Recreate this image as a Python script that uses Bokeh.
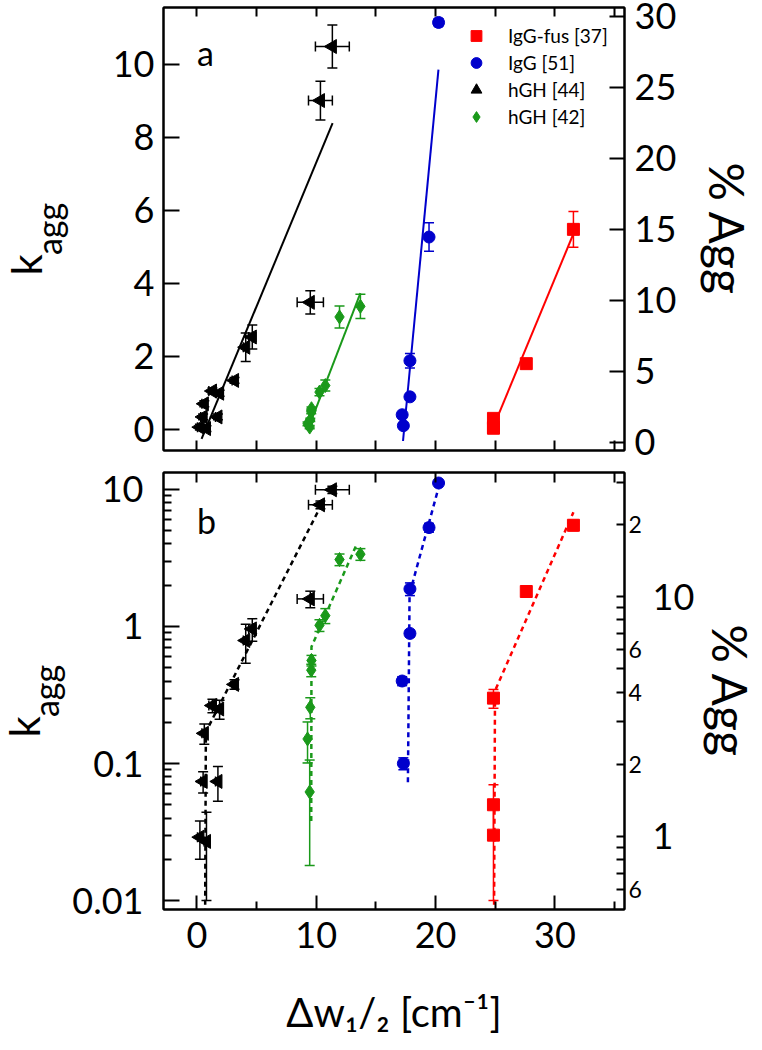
import math
from bokeh.plotting import figure
from bokeh.models import (Range1d, LinearAxis, LogAxis, LogScale, FixedTicker,
                          ColumnDataSource, Whisker, TeeHead, Label, Legend, LegendItem, Title)
from bokeh.layouts import column
from bokeh.embed import file_html
from bokeh.resources import INLINE

# ---------------- data ----------------
# IgG-fus [37]
iggfus_x = [24.85, 24.85, 24.85, 27.6, 31.55]
iggfus_k = [0.03, 0.05, 0.30, 1.80, 5.48]
iggfus_err = [0.02, 0.02, 0.047, 0.05, 0.49]

# IgG [51]
igg_x = [17.3, 17.2, 17.85, 17.85, 19.45, 20.25]
igg_k = [0.10, 0.40, 0.89, 1.88, 5.27, 11.15]
igg_err = [0.01, 0.03, 0.05, 0.20, 0.39, 0.10]
igg_xerr = [0.05, 0.05, 0.05, 0.1, 0.1, 0.3]

# hGH [44]
hgh44_x = [11.35, 10.35, 9.5, 4.09, 4.64, 3.15, 1.3, 1.9, 0.62, 0.52, 1.76, 0.25, 0.8]
hgh44_xerr = [1.42, 1.0, 1.1, 0.2, 0.3, 0.2, 0.3, 0.3, 0.2, 0.2, 0.2, 0.2, 0.2]
hgh44_k_lin = [10.49, 9.01, 3.48, 2.25, 2.53, 1.34, 1.05, 0.99, 0.70, 0.34, 0.34, 0.06, 0.02]
hgh44_err_lin = [0.59, 0.53, 0.32, 0.39, 0.33, 0.08, 0.08, 0.08, 0.08, 0.08, 0.08, 0.08, 0.08]
hgh44_k_log = [9.95, 7.73, 1.59, 0.79, 0.96, 0.378, 0.265, 0.25, 0.166, 0.074, 0.074, 0.029, 0.027]
hgh44_err_log = [0.6, 0.5, 0.22, 0.25, 0.18, 0.03, 0.03, 0.04, 0.028, 0.013, 0.021, 0.009, 0.017]

# hGH [42]
hgh42_x = [9.45, 9.27, 9.5, 9.58, 9.6, 10.27, 10.76, 11.95, 13.7]
hgh42_k = [0.062, 0.151, 0.257, 0.48, 0.565, 1.02, 1.20, 3.08, 3.37]
hgh42_err = [0.044, 0.05, 0.045, 0.05, 0.05, 0.1, 0.15, 0.3, 0.33]

# fitted lines, panel a (linear)
fit_a_hgh44_x = [0.39, 11.37]; fit_a_hgh44_k = [-0.26, 8.39]
fit_a_hgh42_x = [9.3, 13.7];   fit_a_hgh42_k = [0.0, 3.73]
fit_a_igg_x = [17.27, 20.24];  fit_a_igg_k = [-0.32, 9.86]
fit_a_iggfus_x = [24.9, 31.55]; fit_a_iggfus_k = [0.11, 5.36]

# fitted lines, panel b (log)
fit_b_hgh44_x = [0.69, 0.75, 10.4];   fit_b_hgh44_k = [0.008, 0.17, 7.64]
fit_b_hgh42_x = [9.58, 9.6, 13.43];   fit_b_hgh42_k = [0.038, 0.71, 4.06]
fit_b_igg_x = [17.68, 17.82, 20.3];   fit_b_igg_k = [0.073, 1.73, 10.7]
fit_b_iggfus_x = [24.9, 24.98, 31.55]; fit_b_iggfus_k = [0.008, 0.34, 6.83]

x_ticks_all = [0, 5, 10, 15, 20, 25, 30, 35]
x_major = [0, 10, 20, 30]
x_minor = [5, 15, 25, 35]
x_labels = ["0", "10", "20", "30"]
ka_ticks = [0, 2, 4, 6, 8, 10]
pct_a_ticks = [0, 5, 10, 15, 20, 25, 30]
kb_major = [0.01, 0.1, 1, 10]
kb_labels = ["0.01", "0.1", "1", "10"]
pct_b_major = [1, 10]
pct_b_major_labels = ["1", "10"]
pct_b_small = [0.6, 2, 4, 6, 20]
pct_b_small_labels = ["6", "2", "4", "6", "2"]

legend_labels = ["IgG-fus [37]", "IgG [51]", "hGH [44]", "hGH [42]"]
x_title = "\u0394w\u2081/\u2082 [cm\u207b\u00b9]"
y_title_main = "k"
y_title_sub = "agg"
y2_title = "% Agg"

# ---------------- style ----------------
FONT = "Lato"
RED = "#ff0000"
BLUE = "#0000cc"
BLACK = "#000000"
GREEN = "#1a991a"
W = 762
X0, X1 = -2.8, 35.83
FL, FR = 163, 632          # frame left/right (px)
H1, H2 = 466, 584
F1T, F1B = 7, 450          # frame a top/bottom (px)
F2T, F2B = 472, 909        # frame b top/bottom (px, whole page)
YA = (-0.58, 11.56)
PA = (-0.58, 30.6)
YB = (0.0086, 13.3)
PB = (0.496, 32.9)


def xd(px):
    return X0 + (px - FL) / (FR - FL) * (X1 - X0)


def ya(py):
    return YA[1] - (py - F1T) / (F1B - F1T) * (YA[1] - YA[0])


def yb(py):
    lt, lb = math.log10(YB[1]), math.log10(YB[0])
    return 10 ** (lt - (py - F2T) / (F2B - F2T) * (lt - lb))


def make_fig(h, y_range, log, top, bottom):
    kw = dict(width=W, height=h, x_range=Range1d(X0, X1), y_range=y_range,
              output_backend="svg", toolbar_location=None,
              min_border_left=FL, min_border_right=W - FR,
              min_border_top=top, min_border_bottom=bottom)
    if log:
        kw["y_axis_type"] = "log"
    p = figure(**kw)
    p.grid.visible = False
    p.outline_line_color = "black"
    p.outline_line_width = 2
    p.outline_line_alpha = 1.0
    p.background_fill_color = "white"
    p.border_fill_color = "white"
    return p


def style(ax, ticks, minor=(), labels=None, size="36px", standoff=10, tin=15, minin=8,
          line=True):
    ax.ticker = FixedTicker(ticks=list(ticks), minor_ticks=list(minor))
    ax.major_tick_in = tin
    ax.major_tick_out = 0
    ax.minor_tick_in = minin
    ax.minor_tick_out = 0
    for a in ("major_tick_line", "minor_tick_line", "axis_line"):
        setattr(ax, a + "_width", 2)
        setattr(ax, a + "_color", "black")
    if not line:
        ax.axis_line_color = None
        ax.major_tick_line_color = None
        ax.minor_tick_line_color = None
    ax.major_label_text_font = FONT
    ax.major_label_text_color = "black"
    ax.major_label_text_font_size = size
    ax.major_label_standoff = standoff if labels is not None else 0
    if labels is not None:
        ax.major_label_overrides = {t: l for t, l in zip(ticks, labels)}
    ax.axis_label_text_font = FONT
    ax.axis_label_text_font_style = "normal"
    ax.axis_label_text_color = "black"


def set_label(ax, text, size, standoff):
    ax.axis_label = text
    ax.axis_label_text_font_size = size
    ax.axis_label_standoff = standoff


def errs(p, base, val, err, color, dim="height", head=10, lw=1.5):
    src = ColumnDataSource(dict(base=base,
                                lower=[v - e for v, e in zip(val, err)],
                                upper=[v + e for v, e in zip(val, err)]))
    p.add_layout(Whisker(source=src, base="base", lower="lower", upper="upper",
                         dimension=dim, line_color=color, line_width=lw,
                         upper_head=TeeHead(size=head, line_color=color, line_width=lw),
                         lower_head=TeeHead(size=head, line_color=color, line_width=lw)))


def k_title(p, offset):
    p.add_layout(Title(text=y_title_main, text_font=FONT, text_font_size="42px",
                       text_font_style="normal", text_color="black",
                       align="left", vertical_align="bottom", offset=offset,
                       standoff=-52), "left")


# ---------------- panel a ----------------
p1 = make_fig(H1, Range1d(*YA), False, F1T, H1 - F1B)
p1.extra_y_ranges = {"pct": Range1d(*PA)}
style(p1.xaxis[0], [], x_ticks_all, minin=10)
style(p1.yaxis[0], ka_ticks, labels=[str(t) for t in ka_ticks], standoff=9, tin=16)
set_label(p1.yaxis[0], y_title_sub, "34px", 41)
top1 = LinearAxis()
style(top1, [], x_ticks_all, minin=9)
p1.add_layout(top1, "above")
r1 = LinearAxis(y_range_name="pct")
style(r1, pct_a_ticks, labels=[str(t) for t in pct_a_ticks], standoff=10, tin=15)
set_label(r1, y2_title, "48px", 20)
p1.add_layout(r1, "right")
k_title(p1, 175)

# fits
p1.line(fit_a_hgh44_x, fit_a_hgh44_k, line_color=BLACK, line_width=2)
p1.line(fit_a_hgh42_x, fit_a_hgh42_k, line_color=GREEN, line_width=2)
p1.line(fit_a_igg_x, fit_a_igg_k, line_color=BLUE, line_width=2)
p1.line(fit_a_iggfus_x, fit_a_iggfus_k, line_color=RED, line_width=2)

# error bars
errs(p1, hgh44_x, hgh44_k_lin, hgh44_err_lin, BLACK)
errs(p1, hgh44_k_lin, hgh44_x, hgh44_xerr, BLACK, dim="width")
errs(p1, hgh42_x, hgh42_k, hgh42_err, GREEN)
errs(p1, igg_x, igg_k, igg_err, BLUE)
errs(p1, igg_k, igg_x, igg_xerr, BLUE, dim="width")
errs(p1, iggfus_x, iggfus_k, iggfus_err, RED)

# markers
ra_fus = p1.scatter(iggfus_x, iggfus_k, marker="square", size=12, color=RED)
ra_igg = p1.scatter(igg_x, igg_k, marker="circle", size=12, color=BLUE)
ra_h44 = p1.scatter(hgh44_x, hgh44_k_lin, marker="triangle", angle=math.pi / 2,
                    size=14, color=BLACK)
ra_h42 = p1.scatter(hgh42_x, hgh42_k, marker="diamond", size=14, color=GREEN)

legend = Legend(items=[LegendItem(label=legend_labels[0], renderers=[ra_fus]),
                       LegendItem(label=legend_labels[1], renderers=[ra_igg]),
                       LegendItem(label=legend_labels[2], renderers=[ra_h44]),
                       LegendItem(label=legend_labels[3], renderers=[ra_h42])],
                location=(297, 320), orientation="vertical")
legend.label_text_font = FONT
legend.label_text_font_size = "19px"
legend.label_text_color = "black"
legend.glyph_width = 32
legend.glyph_height = 27
legend.label_height = 20
legend.spacing = 0
legend.padding = 0
legend.margin = 0
legend.label_standoff = 16
legend.border_line_color = None
legend.background_fill_alpha = 0
p1.add_layout(legend)

p1.add_layout(Label(x=xd(197), y=ya(52), text="a", text_font=FONT, text_font_size="34px",
                    text_color="black", text_align="left", text_baseline="alphabetic"))

# ---------------- panel b ----------------
p2 = make_fig(H2, Range1d(*YB), True, F2T - H1, H2 - (F2B - H1))
p2.extra_y_ranges = {"pct": Range1d(*PB)}
p2.extra_y_scales = {"pct": LogScale()}

kb_minor = [m * d for d in (0.01, 0.1, 1) for m in range(2, 10)]
pb_minor = [0.7, 0.8, 0.9, 1, 3, 5, 7, 8, 9, 10, 30]
style(p2.xaxis[0], x_major, x_minor, labels=x_labels, standoff=12, tin=14)
set_label(p2.xaxis[0], x_title, "40px", 37)
style(p2.yaxis[0], kb_major, kb_minor, labels=kb_labels, standoff=20, tin=16)
set_label(p2.yaxis[0], y_title_sub, "34px", 3)
top2 = LinearAxis()
style(top2, [], x_ticks_all, minin=10)
p2.add_layout(top2, "above")
r2a = LogAxis(y_range_name="pct")
style(r2a, pct_b_small, pb_minor, labels=pct_b_small_labels, size="23px", standoff=4,
      tin=8, minin=8)
p2.add_layout(r2a, "right")
r2b = LogAxis(y_range_name="pct")
style(r2b, pct_b_major, labels=pct_b_major_labels, standoff=8, tin=0, line=False)
set_label(r2b, y2_title, "48px", 5)
p2.add_layout(r2b, "right")
k_title(p2, 172)

DASH = "5 4"
p2.line(fit_b_hgh44_x, fit_b_hgh44_k, line_color=BLACK, line_width=2.5, line_dash=DASH)
p2.line(fit_b_hgh42_x, fit_b_hgh42_k, line_color=GREEN, line_width=2.5, line_dash=DASH)
p2.line(fit_b_igg_x, fit_b_igg_k, line_color=BLUE, line_width=2.5, line_dash=DASH)
p2.line(fit_b_iggfus_x, fit_b_iggfus_k, line_color=RED, line_width=2.5, line_dash=DASH)

errs(p2, hgh44_x, hgh44_k_log, hgh44_err_log, BLACK)
errs(p2, hgh44_k_log, hgh44_x, hgh44_xerr, BLACK, dim="width")
errs(p2, hgh42_x, hgh42_k, hgh42_err, GREEN)
errs(p2, igg_x, igg_k, igg_err, BLUE)
errs(p2, iggfus_x, iggfus_k, iggfus_err, RED)

p2.scatter(iggfus_x, iggfus_k, marker="square", size=12, color=RED)
p2.scatter(igg_x, igg_k, marker="circle", size=12, color=BLUE)
p2.scatter(hgh44_x, hgh44_k_log, marker="triangle", angle=math.pi / 2, size=14, color=BLACK)
p2.scatter(hgh42_x, hgh42_k, marker="diamond", size=14, color=GREEN)

p2.add_layout(Label(x=xd(197), y=yb(520), text="b", text_font=FONT, text_font_size="34px",
                    text_color="black", text_align="left", text_baseline="alphabetic"))

layout = column(p1, p2, spacing=0)
open("out.html", "w").write(file_html(layout, INLINE))
